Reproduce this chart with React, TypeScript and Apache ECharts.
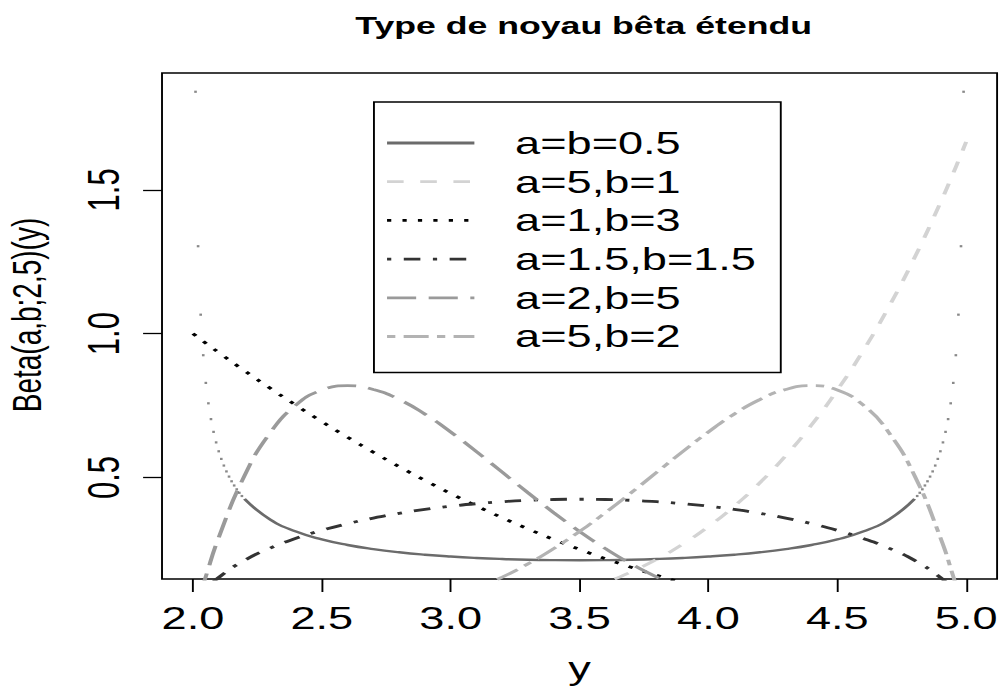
import React, { useEffect, useRef } from "react";
import * as echarts from "echarts";

// The reference was drawn on a square device and stretched horizontally.
const BASE_W = 687;
const BASE_H = 687;
const STRETCH = 1000 / 687;

const chartTitle = "Type de noyau bêta étendu";
const xAxisName = "y";
const yAxisName = "Beta(a,b;2,5)(y)";
const xTicks = [2.0, 2.5, 3.0, 3.5, 4.0, 4.5, 5.0];
const yTicks = [0.5, 1.0, 1.5];
const seriesNames = ["a=b=0.5", "a=5,b=1", "a=1,b=3", "a=1.5,b=1.5", "a=2,b=5", "a=5,b=2"];

const xs = [
  2.0, 2.01, 2.02, 2.03, 2.05,
  2.1, 2.2, 2.3, 2.4, 2.5, 2.6, 2.7, 2.8, 2.9, 3.0,
  3.1, 3.2, 3.3, 3.4, 3.5, 3.6, 3.7, 3.8, 3.9, 4.0,
  4.1, 4.2, 4.3, 4.4, 4.5, 4.6, 4.7, 4.8, 4.9,
  4.95, 4.97, 4.98, 4.99, 5.0,
];

// a=b=0.5: the steep ends are drawn as separate points (below)
const yAB05 = [
  null, null, null, null, null,
  null, 0.4254, 0.3537, 0.3121, 0.2847, 0.2653, 0.2509, 0.2399, 0.2315, 0.2251,
  0.2202, 0.2166, 0.2141, 0.2127, 0.2122, 0.2127, 0.2141, 0.2166, 0.2202, 0.2251,
  0.2315, 0.2399, 0.2509, 0.2653, 0.2847, 0.3121, 0.3537, 0.4254, null,
  null, null, null, null, null,
];
const edgeXsLeft = [2.01, 2.02, 2.03, 2.04, 2.05, 2.06, 2.07, 2.08, 2.09, 2.1, 2.11, 2.12, 2.13, 2.14, 2.15, 2.16, 2.17, 2.18, 2.19];
const edgeYsLeft = [1.841, 1.304, 1.066, 0.9251, 0.8288, 0.7579, 0.7029, 0.6586, 0.622, 0.5911, 0.5646, 0.5415, 0.5211, 0.5031, 0.4868, 0.4722, 0.4589, 0.4468, 0.4356];
const edgeXsRight = [4.81, 4.82, 4.83, 4.84, 4.85, 4.86, 4.87, 4.88, 4.89, 4.9, 4.91, 4.92, 4.93, 4.94, 4.95, 4.96, 4.97, 4.98, 4.99];
const edgeYsRight = [0.4356, 0.4468, 0.4589, 0.4722, 0.4868, 0.5031, 0.5211, 0.5415, 0.5646, 0.5911, 0.622, 0.6586, 0.7029, 0.7579, 0.8288, 0.9251, 1.066, 1.304, 1.841];

const yA5B1 = [
  0, 0, 0, 0, 0,
  0.0, 0.0, 0.0002, 0.0005, 0.0013, 0.0027, 0.0049, 0.0084, 0.0135, 0.0206,
  0.0301, 0.0427, 0.0588, 0.079, 0.1042, 0.1348, 0.1719, 0.216, 0.2682, 0.3292,
  0.4002, 0.482, 0.5758, 0.6827, 0.8038, 0.9403, 1.0935, 1.2647, 1.4553,
  1.5583, 1.601, 1.6227, 1.6446, 1.6667,
];
const yA1B3 = [
  1.0, 0.9934, 0.9867, 0.9801, 0.9669,
  0.9344, 0.8711, 0.81, 0.7511, 0.6944, 0.64, 0.5878, 0.5378, 0.49, 0.4444,
  0.4011, 0.36, 0.3211, 0.2844, 0.25, 0.2178, 0.1878, 0.16, 0.1344, 0.1111,
  0.09, 0.0711, 0.0544, 0.04, 0.0278, 0.0178, 0.01, 0.0044, 0.0011,
  0.0003, 0.0001, 0.00004, 0.00001, 0,
];
const yA15B15 = [
  0, 0.0489, 0.0691, 0.0845, 0.1087,
  0.1524, 0.2117, 0.2546, 0.2885, 0.3163, 0.3395, 0.359, 0.3754, 0.389, 0.4001,
  0.409, 0.4158, 0.4206, 0.4235, 0.4244, 0.4235, 0.4206, 0.4158, 0.409, 0.4001,
  0.389, 0.3754, 0.359, 0.3395, 0.3163, 0.2885, 0.2546, 0.2117, 0.1524,
  0.1087, 0.0845, 0.0691, 0.0489, 0,
];
const yA2B5 = [
  0, 0.0329, 0.0649, 0.0961, 0.1558,
  0.2911, 0.5059, 0.6561, 0.7522, 0.8038, 0.8192, 0.8061, 0.7712, 0.7203, 0.6584,
  0.5899, 0.5184, 0.4468, 0.3776, 0.3125, 0.2529, 0.1998, 0.1536, 0.1145, 0.0823,
  0.0567, 0.0371, 0.0227, 0.0128, 0.0064, 0.0027, 0.0009, 0.0002, 0.0,
  0, 0, 0, 0, 0,
];
const yA5B2 = [
  0, 0, 0, 0, 0,
  0.0, 0.0002, 0.0009, 0.0027, 0.0064, 0.0128, 0.0227, 0.0371, 0.0567, 0.0823,
  0.1145, 0.1536, 0.1998, 0.2529, 0.3125, 0.3776, 0.4468, 0.5184, 0.5899, 0.6584,
  0.7203, 0.7712, 0.8061, 0.8192, 0.8038, 0.7522, 0.6561, 0.5059, 0.2911,
  0.1558, 0.0961, 0.0649, 0.0329, 0,
];

const seriesValues = [yAB05, yA5B1, yA1B3, yA15B15, yA2B5, yA5B2];

const FONT = "'Liberation Sans', Arial, Helvetica, sans-serif";
const LW = 2.8;
const seriesStyles = [
  { color: "#6b6b6b", type: "solid" as any, width: 2.4 },
  { color: "#d3d3d3", type: [11.4, 11.4], width: LW },
  { color: "#000000", type: [2.9, 7.7], width: LW },
  { color: "#333333", type: [2.9, 8.6, 11.4, 8.6], width: LW },
  { color: "#9a9a9a", type: [20, 8.6], width: LW },
  { color: "#b3b3b3", type: [5.7, 5.7, 17.2, 5.7], width: LW },
];

export default function App() {
  const ref = useRef<HTMLDivElement>(null);

  useEffect(() => {
    document.body.style.margin = "0";
    document.body.style.overflow = "hidden";
    const el = ref.current;
    if (!el) return;
    const chart = echarts.init(el, null, { renderer: "svg", width: BASE_W, height: BASE_H });

    const lineSeries = seriesNames.map((name, i) => ({
      name,
      type: "line",
      data: xs.map((x, j) => [x, seriesValues[i][j] === null ? "-" : seriesValues[i][j]]),
      showSymbol: false,
      symbol: "none",
      smooth: 0.5,
      clip: true,
      lineStyle: { color: seriesStyles[i].color, width: seriesStyles[i].width, type: seriesStyles[i].type, cap: "butt" },
      itemStyle: { color: seriesStyles[i].color },
      emphasis: { disabled: true },
      z: 2,
    }));

    const edgeSeries = {
      name: seriesNames[0],
      type: "scatter",
      data: [
        ...edgeXsLeft.map((x, j) => [x, edgeYsLeft[j]]),
        ...edgeXsRight.map((x, j) => [x, edgeYsRight[j]]),
      ],
      symbol: "rect",
      symbolSize: [1.8, 2.2],
      clip: true,
      itemStyle: { color: seriesStyles[0].color },
      emphasis: { disabled: true },
      z: 2,
    };

    chart.setOption({
      animation: false,
      backgroundColor: "#ffffff",
      textStyle: { fontFamily: FONT },
      title: {
        text: chartTitle,
        left: 396,
        textAlign: "center",
        top: 8,
        textStyle: { fontFamily: FONT, fontSize: 24.5, fontWeight: "bold", color: "#000" },
      },
      legend: {
        data: seriesNames,
        orient: "vertical",
        left: 256.9,
        top: 102,
        padding: [25, 17, 20, 7.6],
        itemWidth: 60,
        itemHeight: 14,
        itemGap: 6.7,
        borderColor: "#000",
        borderWidth: 1.3,
        backgroundColor: "#fff",
        selectedMode: false,
        lineStyle: { width: LW },
        itemStyle: { opacity: 0, color: "rgba(0,0,0,0)", borderWidth: 0 },
        textStyle: { fontFamily: FONT, fontSize: 31, color: "#000", lineHeight: 32, padding: [0, 0, 0, 23] },
      },
      grid: {
        left: 111.3,
        right: 2,
        top: 73,
        bottom: 108,
        show: true,
        borderColor: "#000",
        borderWidth: 1.3,
        backgroundColor: "transparent",
        containLabel: false,
        outerBoundsMode: "none",
      },
      xAxis: {
        type: "value",
        min: 1.88,
        max: 5.12,
        name: xAxisName,
        nameLocation: "middle",
        nameGap: 74,
        nameTextStyle: { fontFamily: FONT, fontSize: 31, color: "#000" },
        axisLine: { show: false },
        splitLine: { show: false },
        axisTick: { show: true, inside: false, length: 13, customValues: xTicks, lineStyle: { color: "#000", width: 1.3 } },
        axisLabel: {
          show: true,
          customValues: xTicks,
          margin: 24,
          fontFamily: FONT,
          fontSize: 31,
          color: "#000",
          formatter: (v: number) => v.toFixed(1),
        },
      },
      yAxis: {
        type: "value",
        min: 0.1471,
        max: 1.9062,
        name: yAxisName,
        nameLocation: "middle",
        nameRotate: 90,
        nameGap: 79,
        nameTextStyle: { fontFamily: FONT, fontSize: 28, color: "#000", padding: [0, 0, 0, 22] },
        axisLine: { show: false },
        splitLine: { show: false },
        axisTick: { show: true, inside: false, length: 13, customValues: yTicks, lineStyle: { color: "#000", width: 1.3 } },
        axisLabel: {
          show: true,
          customValues: yTicks,
          rotate: 90,
          margin: 25,
          fontFamily: FONT,
          fontSize: 31,
          color: "#000",
          formatter: (v: number) => v.toFixed(1),
        },
      },
      series: [...lineSeries, edgeSeries],
    });

    return () => {
      chart.dispose();
    };
  }, []);

  return (
    <div
      ref={ref}
      style={{
        width: BASE_W,
        height: BASE_H,
        transform: `scaleX(${STRETCH})`,
        transformOrigin: "0 0",
      }}
    />
  );
}
